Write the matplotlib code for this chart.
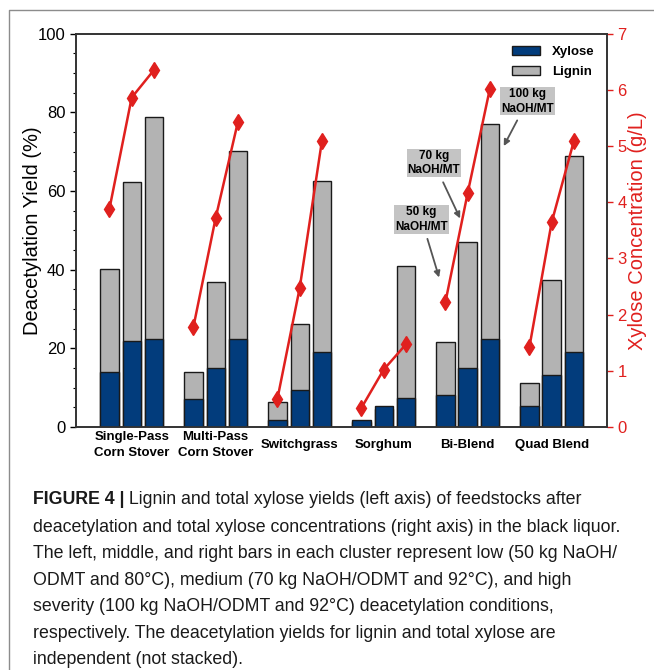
import matplotlib
matplotlib.use('Agg')
import matplotlib.pyplot as plt
import numpy as np
from matplotlib.lines import Line2D
from matplotlib.patches import Patch

plt.rcParams['font.family'] = ['Liberation Sans', 'DejaVu Sans']

# Data (left, middle, right bar = low, medium, high severity)
feedstocks = ['Single-Pass\nCorn Stover', 'Multi-Pass\nCorn Stover', 'Switchgrass',
              'Sorghum', 'Bi-Blend', 'Quad Blend']
xylose_yield = [[13.9, 21.9, 22.3],
                [7.1, 15.0, 22.3],
                [1.9, 9.3, 19.1],
                [1.7, 5.4, 7.4],
                [8.1, 15.0, 22.3],
                [5.4, 13.3, 19.0]]
lignin_yield = [[40.1, 62.2, 78.8],
                [14.1, 36.9, 70.2],
                [6.3, 26.2, 62.5],
                [1.3, 4.6, 41.0],
                [21.6, 47.0, 76.9],
                [11.2, 37.4, 68.9]]
xylose_conc = [[3.88, 5.86, 6.35],
               [1.78, 3.72, 5.43],
               [0.50, 2.47, 5.09],
               [0.34, 1.02, 1.47],
               [2.22, 4.16, 6.02],
               [1.42, 3.64, 5.09]]

caption_lines = [
    "deacetylation and total xylose concentrations (right axis) in the black liquor.",
    "The left, middle, and right bars in each cluster represent low (50 kg NaOH/",
    "ODMT and 80\u00b0C), medium (70 kg NaOH/ODMT and 92\u00b0C), and high",
    "severity (100 kg NaOH/ODMT and 92\u00b0C) deacetylation conditions,",
    "respectively. The deacetylation yields for lignin and total xylose are",
    "independent (not stacked).",
]

blue = '#023c7c'
gray = '#b3b3b3'
red = '#e0201e'

fig = plt.figure(figsize=(6.54, 6.70), dpi=100)
ax = fig.add_axes([0.1162, 0.3627, 0.8118, 0.5873])
ax2 = ax.twinx()

offsets = np.array([-0.265, 0.0, 0.265])
width = 0.218
centers = np.arange(len(feedstocks))

for i in range(len(feedstocks)):
    xs = centers[i] + offsets
    ax.bar(xs, lignin_yield[i], width, color=gray, edgecolor='#1a1a1a', linewidth=1.0, zorder=2)
    ax.bar(xs, xylose_yield[i], width, color=blue, edgecolor='#1a1a1a', linewidth=1.0, zorder=3)
    ax2.plot(xs, xylose_conc[i], color=red, marker='d', markersize=8, linewidth=1.8, zorder=4)

ax.set_xlim(-0.663, 5.658)
ax.set_ylim(0, 100)
ax2.set_ylim(0, 7)

ax.set_xticks(centers)
ax.set_xticklabels(feedstocks, fontsize=9.5, fontweight='bold')
for lab in ax.get_xticklabels():
    lab.set_verticalalignment('center')
    lab.set_linespacing(1.35)
ax.tick_params(axis='x', length=0, pad=13)

ax.set_yticks(np.arange(0, 101, 20))
ax.set_yticks(np.arange(0, 101, 5), minor=True)
ax.tick_params(axis='y', which='major', direction='out', length=4, labelsize=12, width=1)
ax.tick_params(axis='y', which='minor', direction='out', length=2.5, width=0.8)
ax.set_ylabel('Deacetylation Yield (%)', fontsize=14.5, labelpad=-3)

ax2.set_yticks(np.arange(0, 8, 1))
ax2.tick_params(axis='y', direction='out', length=4, colors=red, labelsize=12, width=1)
ax2.set_ylabel('Xylose Concentration (g/L)', fontsize=14.5, color=red, labelpad=1)

for a in (ax, ax2):
    for s in a.spines.values():
        s.set_color('#333333')
        s.set_linewidth(1.2)

# legend
handles = [Patch(facecolor=blue, edgecolor='#1a1a1a', label='Xylose'),
           Patch(facecolor=gray, edgecolor='#1a1a1a', label='Lignin')]
ax.legend(handles=handles, loc='upper right', frameon=False, handlelength=2.1,
          handleheight=0.7, handletextpad=0.9, labelspacing=0.55, borderaxespad=0.55,
          prop={'weight': 'bold', 'size': 9.5})

# severity annotations
box = dict(boxstyle='square,pad=0.08', facecolor='#c4c4c4', edgecolor='none')
arrow = dict(arrowstyle='-|>', color='#555555', lw=1.3, mutation_scale=9, shrinkA=4, shrinkB=0)
ax.annotate('100 kg\nNaOH/MT', xy=(4.43, 71.4), xytext=(4.71, 82.8), ha='center', va='center',
            fontsize=8.5, fontweight='bold', bbox=box, arrowprops=arrow, linespacing=1.3, zorder=6)
ax.annotate('70 kg\nNaOH/MT', xy=(3.91, 53.0), xytext=(3.60, 67.1), ha='center', va='center',
            fontsize=8.5, fontweight='bold', bbox=box, arrowprops=arrow, linespacing=1.3, zorder=6)
ax.annotate('50 kg\nNaOH/MT', xy=(3.66, 38.0), xytext=(3.45, 52.8), ha='center', va='center',
            fontsize=8.5, fontweight='bold', bbox=box, arrowprops=arrow, linespacing=1.3, zorder=6)

# frame around the figure panel
fig.add_artist(Line2D([9 / 654, 9 / 654, 1.0], [0.0, 1 - 10 / 670, 1 - 10 / 670],
                      transform=fig.transFigure, color='#8c8c8c', linewidth=1.0))

# caption
cap_x = 33 / 654
cap_size = 12.8
t_bold = fig.text(cap_x, 1 - 500 / 670, 'FIGURE 4 |', fontsize=cap_size, fontweight='bold',
                  va='center', ha='left', color='#1a1a1a')
ax.annotate(' Lignin and total xylose yields (left axis) of feedstocks after', xy=(1, 0),
            xycoords=t_bold, va='bottom', ha='left', fontsize=cap_size, color='#1a1a1a',
            annotation_clip=False)
for k, line in enumerate(caption_lines):
    y = 527 + k * 26.6
    fig.text(cap_x, 1 - y / 670, line, fontsize=cap_size, va='center', ha='left', color='#1a1a1a')

fig.savefig('out.png', dpi=100)
